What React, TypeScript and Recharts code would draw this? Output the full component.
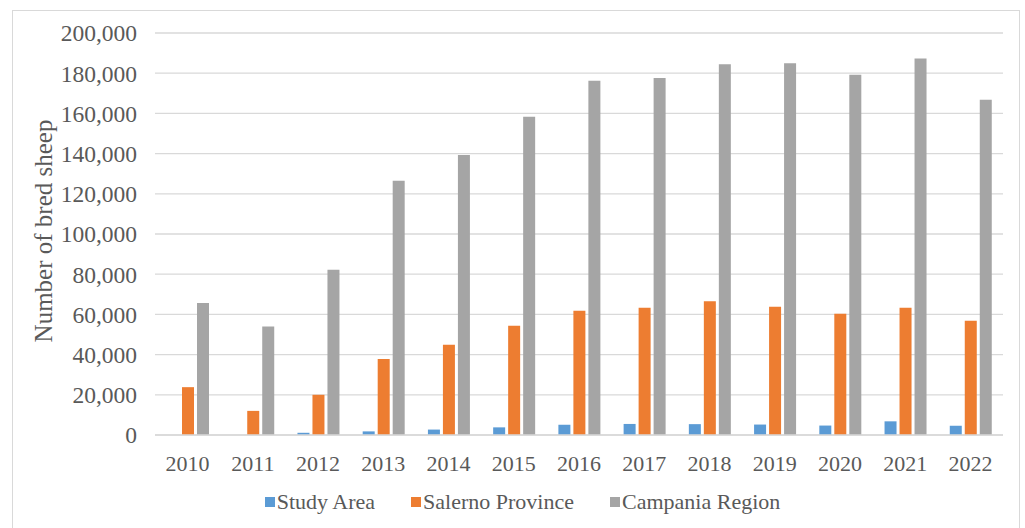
import { BarChart, Bar, XAxis, YAxis, CartesianGrid, Legend } from 'recharts';

const years = ['2010', '2011', '2012', '2013', '2014', '2015', '2016', '2017', '2018', '2019', '2020', '2021', '2022'];
const studyArea = [0, 0, 1100, 1800, 2700, 3800, 5100, 5500, 5400, 5200, 4700, 6800, 4600];
const salernoProvince = [23800, 12000, 20000, 37800, 44900, 54400, 61800, 63300, 66500, 63800, 60300, 63300, 56800];
const campaniaRegion = [65700, 54000, 82200, 126500, 139300, 158300, 176300, 177600, 184500, 185000, 179200, 187300, 166800];
const yTicks = [0, 20000, 40000, 60000, 80000, 100000, 120000, 140000, 160000, 180000, 200000];

const COLORS = {
  study: '#5b9bd5',
  salerno: '#ed7d31',
  campania: '#a5a5a5',
};

const FONT = '"Liberation Serif", "Times New Roman", serif';
const TEXT = '#595959';

const data = years.map((year, i) => ({
  year,
  study: studyArea[i],
  salerno: salernoProvince[i],
  campania: campaniaRegion[i],
}));

const legendItems = [
  { key: 'study', label: 'Study Area', color: COLORS.study },
  { key: 'salerno', label: 'Salerno Province', color: COLORS.salerno },
  { key: 'campania', label: 'Campania Region', color: COLORS.campania },
];

const renderLegend = () => (
  <div
    style={{
      display: 'flex',
      justifyContent: 'center',
      gap: 36,
      fontFamily: FONT,
      fontSize: 22,
      color: TEXT,
      paddingLeft: 20,
    }}
  >
    {legendItems.map((it) => (
      <div key={it.key} style={{ display: 'flex', alignItems: 'center' }}>
        <span
          style={{ width: 10, height: 10, background: it.color, display: 'inline-block', marginRight: 2 }}
        />
        <span>{it.label}</span>
      </div>
    ))}
  </div>
);

const renderYLabel = (props: any) => {
  const vb = props.viewBox || { x: 0, y: 0, height: 0 };
  const cx = vb.x + 43;
  const cy = vb.y + vb.height / 2 - 3;
  return (
    <text
      x={cx}
      y={cy}
      transform={`rotate(-90 ${cx} ${cy})`}
      textAnchor="middle"
      dominantBaseline="central"
      fontFamily={FONT}
      fontSize={25}
      fill={TEXT}
    >
      Number of bred sheep
    </text>
  );
};

export default function App() {
  return (
    <div style={{ position: 'absolute', left: 0, top: 0, width: 1025, height: 528, background: '#fff', overflow: 'hidden' }}>
      <div
        style={{
          position: 'absolute',
          left: 12,
          top: 10,
          width: 1008,
          height: 530,
          border: '1px solid #d9d9d9',
          boxSizing: 'border-box',
        }}
      />
      <div style={{ position: 'absolute', left: 0, top: 0 }}>
        <BarChart
          width={1025}
          height={528}
          data={data}
          margin={{ top: 33, right: 22, left: 0, bottom: 0 }}
          barSize={12}
          barGap={3}
        >
          <CartesianGrid vertical={false} stroke="#d9d9d9" strokeWidth={1.3} />
          <XAxis
            dataKey="year"
            height={93}
            tickSize={0}
            tickMargin={20}
            axisLine={{ stroke: '#d9d9d9', strokeWidth: 1.3 }}
            tick={{ fontSize: 22, fill: TEXT, fontFamily: FONT }}
          />
          <YAxis
            width={155}
            domain={[0, 200000]}
            ticks={yTicks}
            interval={0}
            tickSize={0}
            tickMargin={18}
            axisLine={false}
            tickLine={false}
            tickFormatter={(v: number) => v.toLocaleString('en-US')}
            tick={{ fontSize: 23.5, fill: TEXT, fontFamily: FONT }}
            label={renderYLabel}
          />
          <Legend
            layout="horizontal"
            verticalAlign="middle"
            align="center"
            content={renderLegend}
            wrapperStyle={{ top: 489, left: 0, width: 1025 }}
          />
          <Bar dataKey="study" name="Study Area" fill={COLORS.study} isAnimationActive={false} />
          <Bar dataKey="salerno" name="Salerno Province" fill={COLORS.salerno} isAnimationActive={false} />
          <Bar dataKey="campania" name="Campania Region" fill={COLORS.campania} isAnimationActive={false} />
        </BarChart>
      </div>
    </div>
  );
}
